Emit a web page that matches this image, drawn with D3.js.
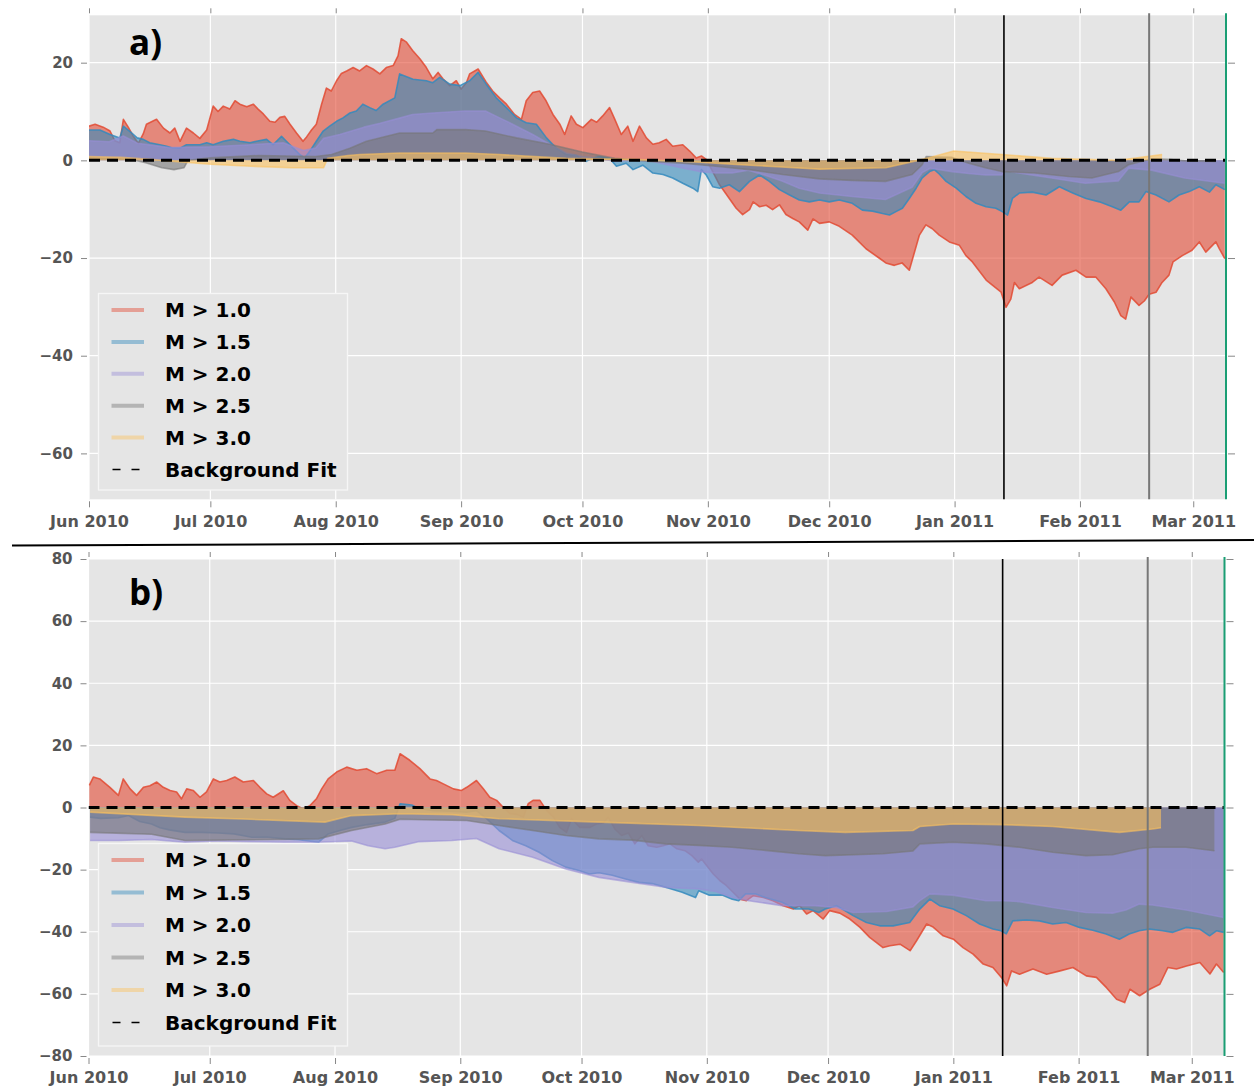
<!DOCTYPE html>
<html>
<head>
<meta charset="utf-8">
<script src="https://cdn.jsdelivr.net/npm/d3@7"></script>
<style>
  html, body { margin: 0; padding: 0; background: #fff; }
  svg { display: block; }
</style>
</head>
<body>
<svg id="chart" width="1254" height="1090"></svg>
<script>
// days are counted from 1 Jun 2010 (UTC)
const startDate = Date.UTC(2010, 5, 1);
const endDay = 281.1;
const markerDays = [226.2, 262.1, 281.1];

const seriesLabels = ['M > 1.0', 'M > 1.5', 'M > 2.0', 'M > 2.5', 'M > 3.0'];
const fitLabel = 'Background Fit';
const yTicksA = [-60, -40, -20, 0, 20];
const yTicksB = [-80, -60, -40, -20, 0, 20, 40, 60, 80];

// panel a
const redA = [[0,7.0],[1.5,7.4],[3.5,6.8],[5.2,6.0],[6.4,4.0],[7.6,3.6],[8.5,8.4],[9.7,6.8],[10.9,5.0],[12.2,3.5],[13.4,5.4],[14.2,7.4],[16.7,8.4],[18.4,6.6],[20,5.6],[21.2,6.6],[22.5,3.9],[24.1,6.6],[25.8,5.6],[27.4,4.5],[29.1,6.2],[30.7,11.1],[31.9,10.0],[33.2,11.1],[34.8,10.5],[36.1,12.2],[37.3,11.5],[39,11.0],[40.6,11.5],[41.8,10.5],[43.1,9.5],[44.7,8.0],[46,7.8],[47.2,8.8],[48.4,9.0],[49.7,7.4],[51.3,5.6],[52.9,3.9],[53.8,4.8],[55,6.2],[56.2,7.4],[57.5,11.5],[58.7,14.8],[59.9,14.2],[61.2,16.3],[62.4,17.8],[63.7,18.3],[65.3,19.0],[66.9,18.3],[68.6,19.4],[70.2,18.7],[71.9,17.7],[73.5,19.0],[75.2,19.4],[76.4,21.4],[77.2,24.9],[78.5,24.2],[80,22.5],[81.8,20.8],[83.4,19.0],[85,16.7],[86.3,18.0],[87.5,16.7],[89.2,15.3],[90.8,16.3],[92,14.6],[93.3,15.9],[94.1,17.7],[96.2,18.7],[98.2,16.0],[99.8,14.2],[101.5,12.8],[103.2,11.5],[105.2,9.4],[106.9,8.4],[108.1,12.2],[109.7,13.9],[111.4,14.2],[113,12.2],[114.7,9.4],[116.4,7.4],[117.6,5.3],[119.2,9.1],[120.5,7.4],[122.1,6.7],[124.2,8.4],[125.5,7.8],[127,9.1],[128.7,10.8],[130,8.4],[131.6,5.3],[133.2,7.0],[134.5,3.9],[136.1,7.0],[137.8,4.6],[139.4,3.3],[141,3.6],[142.7,4.3],[144.3,2.9],[146.8,3.2],[148.5,1.9],[150.1,0.5],[151.4,0.9],[152.6,0.2],[154.2,-2.3],[155.9,-5.0],[158.3,-7.8],[160,-9.8],[161.6,-11.1],[163.3,-10.1],[164.2,-8.5],[165.8,-9.5],[167.4,-9.2],[169,-10.1],[170.7,-9.1],[172.3,-11.1],[174,-11.9],[175.6,-12.6],[177.7,-14.3],[179,-12.0],[180.6,-12.9],[183,-12.6],[185.5,-13.5],[188.7,-15.3],[192.1,-18.1],[195.5,-20.1],[197,-21.0],[199.1,-21.5],[201,-21.0],[202.8,-22.5],[205.3,-15.3],[206.9,-13.2],[208.5,-14.0],[210.2,-15.3],[212.7,-16.7],[215.2,-17.4],[216.8,-19.5],[218.4,-20.8],[221.8,-24.5],[225.5,-27.0],[226.7,-30.1],[227.9,-28.4],[228.8,-25.0],[230,-26.3],[233.2,-25.0],[234.9,-23.9],[238.1,-25.6],[240.6,-23.5],[244,-22.5],[246.5,-23.9],[248.9,-23.9],[251.4,-26.3],[253.5,-29.0],[255.1,-31.8],[256.3,-32.5],[257.6,-28.0],[259.6,-29.7],[260.9,-28.8],[262.1,-27.4],[263.8,-27.0],[265.3,-25.0],[267,-23.5],[268,-20.8],[270.3,-19.5],[272.7,-18.4],[274.5,-16.7],[276.1,-18.8],[278.6,-16.7],[279.4,-18.0],[280.8,-20.1]];
const blueA = [[0,6.2],[2.7,6.2],[5.2,5.3],[7.6,4.6],[8.5,7.0],[10.3,5.8],[11.9,4.6],[13.4,4.3],[15,3.6],[17.5,3.2],[19.2,2.9],[20.8,2.5],[22.5,2.5],[24.1,3.2],[27.4,3.2],[29.1,3.6],[30.7,3.2],[33.2,3.9],[35.7,4.3],[37.3,3.9],[39.8,3.6],[41.4,3.9],[43.9,4.3],[45.5,3.2],[47.6,4.9],[48.8,3.9],[50.5,2.5],[52.1,1.2],[53.3,0.5],[54.6,1.9],[56.2,3.9],[57.9,6.0],[59.5,7.0],[61.2,8.0],[62.8,8.7],[64.5,9.7],[66.1,10.1],[67.7,11.5],[69.4,10.8],[71,10.2],[72.7,11.5],[74.3,12.2],[75.6,12.8],[76.8,17.7],[80.1,16.6],[83.4,16.3],[85,15.9],[86.7,17.0],[89.2,15.6],[91.7,15.3],[94.1,16.3],[96.2,18.0],[98.2,15.6],[100.7,12.8],[103.2,10.8],[105.7,8.7],[108.1,7.7],[110.6,7.4],[113.1,4.6],[115.5,2.5],[118,1.2],[120.5,1.0],[122.9,-0.2],[124.6,0.5],[126.2,0.8],[128.7,0.4],[130.4,-1.2],[132.8,-0.6],[134.5,-1.9],[136.9,-1.0],[139.4,-2.6],[141.9,-2.9],[144.3,-3.6],[146.8,-4.7],[149.3,-5.7],[150.5,-6.4],[151.4,-1.9],[152.6,-3.0],[154.2,-5.4],[155.9,-5.7],[158.3,-5.0],[160.8,-6.4],[163.3,-4.3],[165.8,-3.0],[168.2,-4.3],[170.7,-6.0],[173.2,-7.1],[175.6,-8.1],[178.1,-8.5],[180.6,-8.1],[183,-8.5],[185.5,-8.1],[188.7,-8.8],[191.2,-10.2],[193.7,-10.4],[196.2,-10.9],[197.9,-11.2],[199.5,-10.5],[201.1,-9.8],[202.8,-7.8],[204.5,-5.7],[206,-3.6],[207.8,-2.3],[209,-1.9],[210.2,-2.8],[211.9,-4.3],[214.4,-5.7],[216.8,-7.4],[219.3,-8.8],[221.8,-9.5],[224.2,-9.8],[225.8,-10.5],[227.1,-11.2],[228.3,-7.8],[230,-6.7],[233.2,-6.5],[236.6,-7.1],[239.9,-5.4],[243.2,-6.7],[246.5,-7.8],[249.8,-8.5],[253,-9.5],[255.1,-10.2],[257.2,-8.5],[259.6,-8.5],[261.3,-6.4],[263.8,-7.1],[267,-8.5],[269.5,-7.1],[272,-6.4],[274.5,-5.4],[277,-6.5],[278.6,-5.0],[280.8,-6.0]];
const purpleA = [[0,4.0],[5,3.8],[8.5,5.0],[12,3.5],[20,2.6],[30,2.8],[40,3.2],[48,3.6],[53,2.0],[56,2.5],[58,4.5],[62,5.3],[68,6.8],[72,7.6],[77,8.7],[80,9.4],[85,9.7],[93,10.1],[98,10.1],[101.5,8.7],[105.7,7.0],[109.7,5.3],[113.9,3.3],[118,1.5],[122,0.8],[126,0.4],[130,-0.2],[135,0.1],[139,-0.2],[143,-0.9],[147,-1.6],[151,-2.3],[155,-2.6],[159,-2.6],[163,-2.0],[167,-3.0],[171.5,-4.3],[175.6,-5.7],[180.6,-6.7],[188.7,-7.4],[196.9,-8.0],[203.5,-5.5],[206,-2.5],[208,-1.6],[213.4,-2.3],[217.5,-2.7],[221.6,-3.0],[225.7,-3.0],[226.5,-2.0],[229.8,-2.6],[238,-3.6],[246.3,-4.7],[254.5,-4.2],[257,-1.6],[262.7,-2.0],[270.9,-3.6],[280.8,-4.7]];
const grayA = [[0,0.5],[10,0.3],[14,-0.5],[18,-1.5],[21,-1.9],[23.5,-1.5],[24.5,0],[30,0.5],[42,1.0],[56,0.8],[60,1.2],[64.5,2.5],[68.6,3.9],[76.8,5.6],[85,5.6],[86,6.3],[93,6.3],[98,6.0],[105.7,4.6],[113.9,3.3],[122,1.7],[130,0.4],[138.6,-0.2],[146.8,-0.6],[155,-1.2],[163.3,-1.9],[171.5,-2.9],[180.6,-3.8],[188.7,-4.1],[196.9,-4.3],[203.5,-2.9],[206,-0.9],[207,0.8],[213.4,0.6],[217.5,-0.6],[221.6,-1.5],[225.7,-2.3],[233.9,-2.6],[242.2,-3.3],[247.9,-3.6],[254.5,-2.3],[257,-0.9],[262.7,0.3],[266.8,0.2],[270.9,-0.1],[278.6,-0.2]];
const yellowA = [[0,0.8],[8,0.6],[15,0.2],[22,-0.3],[30,-0.8],[40,-1.2],[50,-1.5],[58,-1.5],[59,0.4],[64,1.0],[67,1.2],[76.8,1.5],[93,1.5],[101.5,1.2],[118,0.4],[134.5,0.2],[150.9,-0.4],[159,-0.8],[170,-1.3],[180.6,-1.8],[197,-1.5],[205,0],[207,0.4],[213.8,1.9],[225.7,1.2],[238,0.4],[254.5,0],[265.3,1.2]];
const fitA = [[0,0],[281,0]];

// panel b
const redB = [[0.2,7.1],[1.2,9.8],[2.8,9.2],[5.3,6.5],[7.4,3.9],[8.6,9.2],[10.3,6.0],[11.9,3.9],[13.6,6.5],[15.2,7.0],[16.9,8.2],[18.5,6.5],[20.2,5.5],[21.8,5.0],[23,2.8],[24.3,6.0],[25.9,5.5],[27.6,3.3],[29.2,5.0],[30.9,9.2],[32.5,8.2],[34.2,8.7],[36.2,9.8],[38.3,8.2],[40.8,8.7],[42.4,6.5],[44.1,4.4],[45.7,3.3],[48.2,5.4],[49.8,2.3],[51.5,0.6],[53.1,-0.4],[54.8,0.6],[56.4,2.8],[57.7,6.0],[59.3,9.2],[61.4,11.4],[63.9,13.0],[66.4,12.0],[68.8,12.5],[71.3,10.9],[73.8,12.0],[75.8,12.0],[77.1,17.3],[79.5,15.2],[82,12.5],[84.5,9.2],[86.1,8.7],[87.8,7.6],[90.3,6.0],[92.3,5.5],[93.6,6.5],[96,8.7],[97.7,6.0],[99.3,3.3],[101,2.3],[102.6,0.1],[104.3,-2.0],[105.9,-2.2],[107.6,-3.1],[108.8,1.2],[110,2.3],[111.7,2.3],[113.4,-1.0],[115,-3.0],[116.6,-6.4],[118.3,-8.0],[119.5,-3.6],[121.6,-6.4],[124.1,-6.4],[125.7,-5.3],[127.4,-5.0],[128.6,-3.1],[130.3,-7.0],[131.9,-9.0],[133.6,-8.2],[135.2,-11.7],[136.9,-9.0],[138.5,-12.3],[140.6,-12.8],[142.2,-12.3],[143.9,-11.7],[145.6,-13.3],[147.6,-13.9],[149.3,-15.5],[150.9,-17.6],[151.7,-16.6],[152.9,-18.6],[154.6,-21.4],[156.2,-23.5],[157.8,-25.1],[159.5,-27.3],[161.2,-29.5],[162.8,-30.0],[164.5,-28.4],[167,-29.0],[169.4,-30.0],[171.9,-31.6],[174.4,-32.7],[176,-31.6],[177.7,-34.3],[179.3,-33.2],[181.8,-35.9],[183.4,-33.2],[185.9,-34.0],[188.4,-35.9],[190.9,-38.6],[193.3,-41.8],[196.6,-45.1],[198.3,-44.5],[200.8,-44.0],[203.3,-46.1],[204.9,-42.9],[207.4,-37.5],[209,-38.5],[211.5,-41.3],[214,-42.4],[216.4,-45.1],[218.9,-47.2],[221.4,-50.4],[223.8,-51.5],[225.9,-54.7],[227.2,-57.4],[228.4,-52.6],[230.4,-53.7],[233.7,-52.0],[237.1,-53.7],[240.4,-52.6],[243.6,-51.5],[246.9,-54.2],[249.4,-54.7],[251.9,-58.0],[254.4,-61.7],[256.4,-62.8],[257.7,-58.5],[260.1,-60.6],[262.6,-58.5],[265.1,-56.9],[267.1,-51.5],[269.2,-52.0],[271.7,-51.0],[275,-49.9],[277.5,-53.6],[279.1,-50.4],[280.9,-53.1]];
const blueB = [[0.4,-3.1],[3,-3.5],[7.4,-3.3],[9.9,-2.6],[12.7,-4.5],[15.6,-5.3],[17.7,-6.5],[20,-7.2],[23.9,-8.0],[28,-8.0],[32.1,-8.2],[36,-8.5],[40.4,-9.6],[44.1,-9.5],[48.6,-10.1],[52,-10.4],[56.9,-11.2],[59.3,-8.5],[62,-7.5],[65.1,-6.4],[69,-5.5],[73.4,-4.7],[75.8,-3.5],[77.1,1.2],[80,0.8],[81.6,-0.2],[85.3,-1.0],[89.4,-1.2],[93.6,-1.5],[96,-1.0],[98.5,-3.6],[101.6,-7.4],[104.9,-10.6],[108.2,-12.3],[111.5,-14.4],[114.8,-17.1],[118.1,-19.2],[121.4,-20.3],[123.9,-21.4],[126.3,-21.0],[129.6,-21.8],[132.9,-23.0],[136.2,-24.1],[139.5,-24.5],[142.8,-25.7],[146.9,-27.3],[150.2,-29.0],[151,-26.8],[153.5,-28.2],[156.8,-28.2],[159.3,-29.5],[160.9,-30.0],[162.6,-27.8],[165,-27.8],[167.5,-29.0],[171.6,-30.5],[174.9,-32.7],[178.2,-32.7],[180.7,-33.8],[182.3,-32.7],[185.1,-31.6],[189.2,-34.8],[192.5,-37.0],[195.8,-38.1],[199.1,-38.1],[203.2,-37.0],[205.7,-32.7],[208.2,-29.5],[210.6,-31.6],[213.9,-32.7],[217.2,-34.8],[220.5,-37.5],[223.8,-39.1],[225.8,-39.7],[227.1,-40.7],[228.7,-36.5],[232,-36.2],[235.3,-36.5],[238.6,-37.5],[241.9,-37.0],[245.2,-38.6],[248.5,-39.5],[251.8,-40.7],[255.1,-42.4],[257.5,-40.7],[260,-39.7],[262.5,-39.1],[265.8,-39.7],[268.3,-40.2],[271.6,-38.6],[274.9,-39.1],[277.4,-41.3],[279.1,-39.7],[280.9,-40.2]];
const purpleB = [[0.4,-10.6],[7.4,-10.6],[15.6,-10.3],[23.9,-11.2],[32,-10.8],[40.4,-11.0],[48.6,-11.2],[56.9,-11.2],[65.1,-10.8],[69.2,-12.3],[73.4,-13.3],[75.8,-12.8],[81.6,-11.0],[89.9,-10.6],[96,-10.0],[101.6,-13.3],[109.9,-16.0],[118.1,-19.8],[126.3,-22.5],[134.6,-24.1],[142.8,-25.7],[151,-26.2],[155,-27.0],[159.3,-29.0],[163.4,-30.0],[171.6,-31.6],[179.9,-31.6],[185,-32.2],[189.2,-33.8],[197.5,-33.5],[204,-32.0],[205.7,-30.0],[208.2,-27.8],[213.9,-28.2],[222.1,-30.0],[226.2,-30.0],[230.4,-30.3],[238.6,-32.2],[246.8,-33.8],[253.4,-34.0],[256.7,-33.0],[260,-31.1],[263.3,-31.4],[271.6,-33.0],[280.9,-35.4]];
const grayB = [[0.4,-8.0],[15.6,-8.6],[23.9,-10.6],[40.4,-10.4],[56.9,-10.1],[65.1,-7.4],[73.4,-5.3],[77.1,-3.8],[85.7,-4.0],[93.6,-4.2],[101.6,-5.8],[109.9,-7.4],[118.1,-9.0],[126.3,-10.1],[134.6,-10.5],[142.8,-11.7],[151,-12.2],[159.3,-12.8],[167.5,-13.8],[175.7,-14.9],[182.3,-15.5],[196.6,-14.9],[204,-14.0],[205.7,-11.7],[213.9,-11.2],[222.1,-11.7],[230.4,-12.8],[238.6,-14.4],[246.8,-15.5],[253.4,-15.2],[260,-13.3],[263.3,-12.8],[271.6,-12.8],[278.6,-13.9]];
const yellowB = [[0.4,-1.5],[23.9,-3.1],[40,-3.8],[58.5,-4.7],[65.1,-2.6],[77,-2.0],[90,-2.3],[101.6,-3.6],[126.3,-4.7],[151,-5.8],[175.7,-7.4],[187.3,-8.0],[204,-7.4],[205.7,-6.1],[213.9,-5.3],[226,-5.5],[238.6,-6.1],[255.1,-8.0],[263.3,-6.9],[265.4,-6.5]];
const fitB = [[0,0],[281,0]];

const colors = ['#E24A33', '#348ABD', '#988ED5', '#777777', '#FBC15E'];
const markerColors = ['#000000', '#777777', '#1a9e74'];

const toDate = d => new Date(startDate + d * 864e5);

const panels = [
  { label: 'a)', series: [redA, blueA, purpleA, grayA, yellowA], fit: fitA, yTicks: yTicksA,
    yDomain: [-69.4, 29.7], left: 89, right: 1226, top: 15.3, bottom: 499.3,
    legend: { x: 98.5, y: 293.5, w: 249, h: 196.5, step: 31.9 }, labelY: 55 },
  { label: 'b)', series: [redB, blueB, purpleB, grayB, yellowB], fit: fitB, yTicks: yTicksB,
    yDomain: [-80, 80], left: 88.5, right: 1224.5, top: 559, bottom: 1056,
    legend: { x: 98.5, y: 843.5, w: 249, h: 202.5, step: 32.5 }, labelY: 605 }
];

const svg = d3.select('#chart');
svg.append('rect').attr('width', 1254).attr('height', 1090).attr('fill', '#fff');

panels.forEach((p, pi) => {
  const x = d3.scaleUtc().domain([toDate(0), toDate(endDay)]).range([p.left, p.right]);
  const y = d3.scaleLinear().domain(p.yDomain).range([p.bottom, p.top]);
  const g = svg.append('g');
  const clipId = 'clip' + pi;

  g.append('clipPath').attr('id', clipId)
    .append('rect')
    .attr('x', p.left).attr('y', p.top)
    .attr('width', p.right - p.left).attr('height', p.bottom - p.top);

  g.append('rect')
    .attr('x', p.left).attr('y', p.top)
    .attr('width', p.right - p.left).attr('height', p.bottom - p.top)
    .attr('fill', '#E5E5E5');

  const months = x.ticks(d3.utcMonth.every(1));

  // grid
  const grid = g.append('g').attr('stroke', '#fff').attr('stroke-width', 1.2);
  grid.selectAll('.gx').data(months).join('line')
    .attr('x1', d => x(d)).attr('x2', d => x(d))
    .attr('y1', p.top).attr('y2', p.bottom);
  grid.selectAll('.gy').data(p.yTicks).join('line')
    .attr('x1', p.left).attr('x2', p.right)
    .attr('y1', d => y(d)).attr('y2', d => y(d));

  const plot = g.append('g').attr('clip-path', `url(#${clipId})`);

  const area = d3.area()
    .x(d => x(toDate(d[0])))
    .y0(y(0))
    .y1(d => y(d[1]));
  const line = d3.line()
    .x(d => x(toDate(d[0])))
    .y(d => y(d[1]));

  p.series.forEach((s, i) => {
    plot.append('path')
      .datum(s)
      .attr('fill', colors[i])
      .attr('fill-opacity', 0.6)
      .attr('d', area);
    plot.append('path')
      .datum(s)
      .attr('fill', 'none')
      .attr('stroke', colors[i])
      .attr('stroke-opacity', i < 2 ? 0.85 : 0.6)
      .attr('stroke-width', 1.6)
      .attr('stroke-linejoin', 'round')
      .attr('d', line);
  });

  plot.append('path')
    .datum(p.fit)
    .attr('fill', 'none')
    .attr('stroke', '#000')
    .attr('stroke-width', 3)
    .attr('stroke-dasharray', '11,7')
    .attr('d', line);

  // event markers
  g.selectAll('.marker').data(markerDays).join('line')
    .attr('x1', d => x(toDate(d))).attr('x2', d => x(toDate(d)))
    .attr('y1', (d, i) => i === 0 ? p.top : p.top - 2)
    .attr('y2', p.bottom)
    .attr('stroke', (d, i) => markerColors[i])
    .attr('stroke-width', (d, i) => i === 0 ? 1.6 : 2);

  // axes
  const styleAxis = (sel, size) => {
    sel.select('.domain').remove();
    sel.selectAll('.tick line').attr('stroke', '#888').attr('stroke-width', 1);
    sel.selectAll('.tick text')
      .attr('fill', '#555')
      .style('font-family', '"DejaVu Sans", sans-serif')
      .style('font-weight', 'bold')
      .style('font-size', size + 'px');
  };

  g.append('g').attr('transform', `translate(0,${p.bottom + 2})`)
    .call(d3.axisBottom(x).tickValues(months).tickFormat(d3.utcFormat('%b %Y')).tickSize(6).tickPadding(8))
    .call(sel => styleAxis(sel, 16));
  g.append('g').attr('transform', `translate(0,${p.top - 2})`)
    .call(d3.axisTop(x).tickValues(months).tickFormat('').tickSize(5))
    .call(sel => styleAxis(sel, 16));
  g.append('g').attr('transform', `translate(${p.left - 2},0)`)
    .call(d3.axisLeft(y).tickValues(p.yTicks).tickFormat(d3.format('d')).tickSize(6).tickPadding(8))
    .call(sel => styleAxis(sel, 15));
  g.append('g').attr('transform', `translate(${p.right + 2},0)`)
    .call(d3.axisRight(y).tickValues(p.yTicks).tickFormat('').tickSize(7))
    .call(sel => styleAxis(sel, 15));

  // legend
  const L = p.legend;
  const lg = g.append('g');
  lg.append('rect')
    .attr('x', L.x).attr('y', L.y).attr('width', L.w).attr('height', L.h)
    .attr('fill', '#E5E5E5').attr('stroke', '#f6f6f6').attr('stroke-width', 1.3);
  const entries = seriesLabels.concat([fitLabel]);
  const rowY = i => L.y + 16.5 + i * L.step;
  entries.forEach((name, i) => {
    const ly = rowY(i);
    if (i < seriesLabels.length) {
      lg.append('line')
        .attr('x1', L.x + 13).attr('x2', L.x + 45.5)
        .attr('y1', ly).attr('y2', ly)
        .attr('stroke', colors[i]).attr('stroke-opacity', 0.45).attr('stroke-width', 4);
    } else {
      lg.append('line')
        .attr('x1', L.x + 14).attr('x2', L.x + 44)
        .attr('y1', ly).attr('y2', ly)
        .attr('stroke', '#000').attr('stroke-width', 1.6).attr('stroke-dasharray', '8,11');
    }
    lg.append('text')
      .attr('x', L.x + 66.5).attr('y', ly)
      .attr('dy', '0.36em')
      .style('font-family', '"DejaVu Sans", sans-serif')
      .style('font-weight', 'bold')
      .style('font-size', '20px')
      .attr('fill', '#000')
      .text(name);
  });

  g.append('text')
    .attr('x', 129).attr('y', p.labelY)
    .style('font-family', '"Open Sans", sans-serif')
    .style('font-weight', 700)
    .style('font-size', '35px')
    .attr('fill', '#000')
    .text(p.label);
});

// separator between the two panels
svg.append('line')
  .attr('x1', 12).attr('y1', 545.5).attr('x2', 1254).attr('y2', 540)
  .attr('stroke', '#000').attr('stroke-width', 2);
</script>
</body>
</html>
